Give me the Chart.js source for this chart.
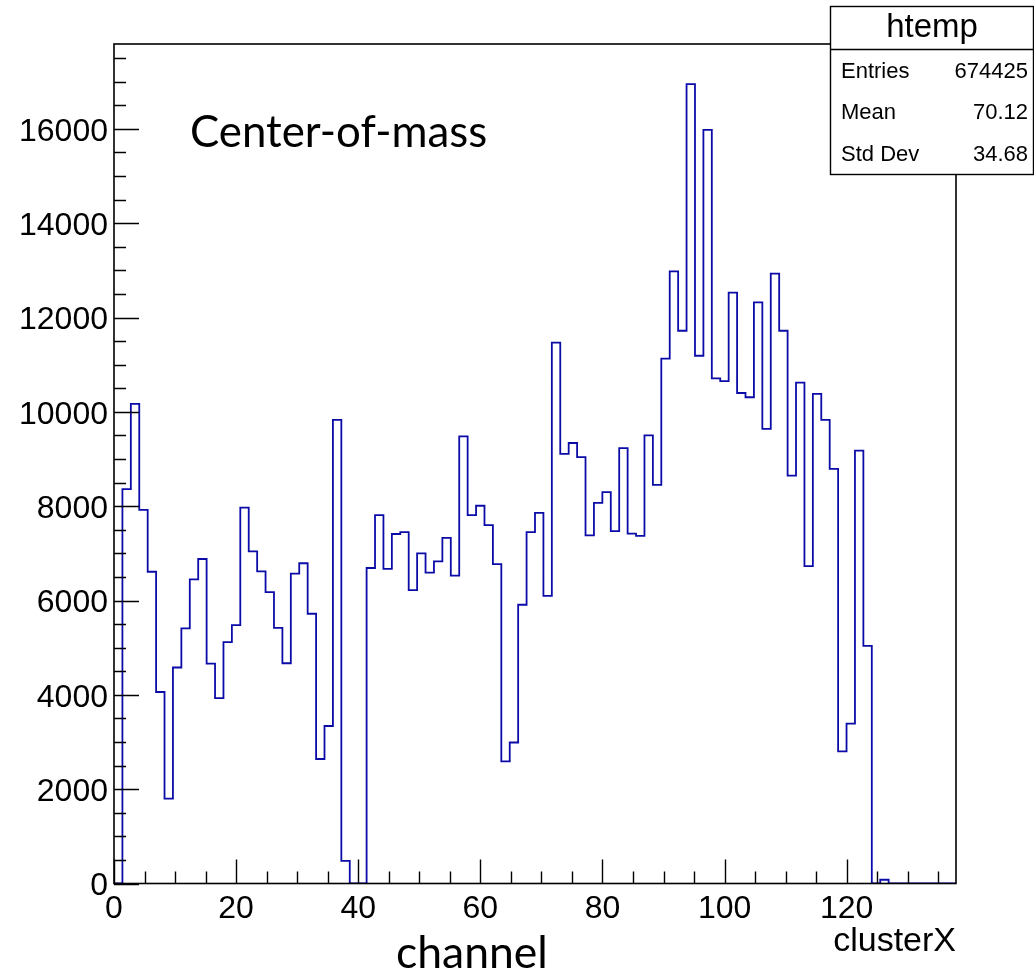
<!DOCTYPE html>
<html>
<head>
<meta charset="utf-8">
<title>clusterX</title>
<script src="https://cdn.jsdelivr.net/npm/chart.js@4.4.1/dist/chart.umd.min.js"></script>
<style>
  html, body { margin: 0; padding: 0; background: #ffffff; }
  #wrap { width: 1034px; height: 975px; position: relative; }
</style>
</head>
<body>
<div id="wrap"><canvas id="c" width="1034" height="975"></canvas></div>
<script>
// Histogram "htemp" of clusterX: 100 bins over [0, 137.9]
const xRange = [0, 137.9];
const yRange = [0, 17800];
const binCounts = [
  0, 8360, 10170, 7920, 6610, 4060, 1800, 4580, 5410, 6450,
  6880, 4660, 3930, 5120, 5480, 7970, 7040, 6620, 6180, 5420,
  4670, 6570, 6790, 5720, 2640, 3340, 9830, 480, 0, 0,
  6690, 7810, 6670, 7410, 7450, 6220, 7000, 6590, 6830, 7330,
  6530, 9480, 7810, 8010, 7600, 6770, 2590, 2990, 5910, 7450,
  7860, 6100, 11470, 9110, 9340, 9040, 7380, 8070, 8300, 7470,
  9230, 7420, 7370, 9500, 8450, 11130, 12980, 11720, 16950, 11190,
  15980, 10710, 10650, 12530, 10400, 10310, 12320, 9640, 12930, 11720,
  8650, 10620, 6730, 10380, 9830, 8790, 2800, 3390, 9180, 5040,
  0, 80, 0, 0, 0, 0, 0, 0, 0, 0
];
const xTickValues = [0, 20, 40, 60, 80, 100, 120];
const yTickValues = [0, 2000, 4000, 6000, 8000, 10000, 12000, 14000, 16000];
const xMinorStep = 5;
const yMinorStep = 500;
const histName = 'htemp';
const statsLabels = ['Entries', 'Mean', 'Std Dev'];
const statsValues = ['674425', '70.12', '34.68'];
const xTitle = 'clusterX';
const noteText = 'Center-of-mass';
const unitText = 'channel';

// step outline points: one per bin low edge, plus the upper edge of the last bin
const binWidth = (xRange[1] - xRange[0]) / binCounts.length;
const outline = binCounts.map((v, i) => ({ x: xRange[0] + i * binWidth, y: v }));
outline.push({ x: xRange[1], y: binCounts[binCounts.length - 1] });

const LABEL_FONT = 'Liberation Sans, Arial, Helvetica, sans-serif';
const NOTE_FONT = 'Lato, Open Sans, sans-serif';

function fitFontSize(ctx, text, family, width) {
  ctx.font = '100px ' + family;
  return 100 * width / ctx.measureText(text).width;
}

// ROOT-style frame, inward tick marks, stats box and free text
const rootDecor = {
  id: 'rootDecor',
  afterDatasetsDraw(chart) {
    const { ctx, chartArea: a, scales: { x, y } } = chart;
    ctx.save();
    ctx.strokeStyle = '#000';
    ctx.lineWidth = 1.6;
    ctx.strokeRect(a.left, a.top, a.right - a.left, a.bottom - a.top);
    ctx.lineWidth = 1.4;
    ctx.beginPath();
    for (let v = yRange[0]; v <= yRange[1]; v += yMinorStep) {
      const py = Math.round(y.getPixelForValue(v)) + 0.5;
      const len = yTickValues.includes(v) ? 25 : 12;
      ctx.moveTo(a.left, py);
      ctx.lineTo(a.left + len, py);
    }
    for (let v = xRange[0]; v <= xRange[1]; v += xMinorStep) {
      const px = Math.round(x.getPixelForValue(v)) + 0.5;
      const len = xTickValues.includes(v) ? 24 : 12;
      ctx.moveTo(px, a.bottom);
      ctx.lineTo(px, a.bottom - len);
    }
    ctx.stroke();
    ctx.restore();
  },
  afterDraw(chart) {
    const { ctx } = chart;
    ctx.save();
    // statistics box
    const bx = 830.5, by = 6.5, bw = 203, bh = 168, divY = 49.5;
    ctx.fillStyle = '#fff';
    ctx.fillRect(bx, by, bw, bh);
    ctx.strokeStyle = '#000';
    ctx.lineWidth = 1.4;
    ctx.strokeRect(bx, by, bw, bh);
    ctx.beginPath();
    ctx.moveTo(bx, divY);
    ctx.lineTo(bx + bw, divY);
    ctx.stroke();
    ctx.fillStyle = '#000';
    ctx.textBaseline = 'middle';
    ctx.textAlign = 'center';
    ctx.font = '33px ' + LABEL_FONT;
    ctx.fillText(histName, bx + bw / 2, 28);
    ctx.font = '22px ' + LABEL_FONT;
    const rows = [72, 113, 155];
    statsLabels.forEach((lab, i) => {
      ctx.textAlign = 'left';
      ctx.fillText(lab, 841, rows[i]);
      ctx.textAlign = 'right';
      ctx.fillText(statsValues[i], 1028, rows[i]);
    });
    // free text on the pad
    ctx.textBaseline = 'alphabetic';
    ctx.textAlign = 'left';
    const s1 = fitFontSize(ctx, noteText, NOTE_FONT, 297);
    ctx.font = s1.toFixed(1) + 'px ' + NOTE_FONT;
    ctx.fillText(noteText, 190, 147);
    const s2 = fitFontSize(ctx, unitText, NOTE_FONT, 152);
    ctx.font = s2.toFixed(1) + 'px ' + NOTE_FONT;
    ctx.fillText(unitText, 396, 968);
    ctx.restore();
  }
};

new Chart(document.getElementById('c'), {
  type: 'line',
  data: {
    datasets: [{
      label: histName,
      data: outline,
      stepped: 'before',
      borderColor: '#0b0ba8',
      borderWidth: 1.8,
      pointRadius: 0,
      fill: false
    }]
  },
  options: {
    responsive: false,
    animation: false,
    devicePixelRatio: 1,
    layout: { padding: { top: 44, right: 78, left: 0, bottom: 0 } },
    plugins: { legend: { display: false }, tooltip: { enabled: false } },
    scales: {
      x: {
        type: 'linear',
        min: xRange[0],
        max: xRange[1],
        grid: { display: false, drawTicks: false },
        border: { display: false },
        afterBuildTicks: s => { s.ticks = xTickValues.map(v => ({ value: v })); },
        ticks: {
          autoSkip: false,
          maxRotation: 0,
          color: '#000',
          padding: 6,
          font: { family: LABEL_FONT, size: 32 },
          callback: v => String(v)
        },
        title: {
          display: true,
          text: xTitle,
          align: 'end',
          color: '#000',
          font: { family: LABEL_FONT, size: 34 },
          padding: { top: 0, bottom: 13 }
        },
        afterFit: s => { s.height = 91.5; }
      },
      y: {
        type: 'linear',
        min: yRange[0],
        max: yRange[1],
        grid: { display: false, drawTicks: false },
        border: { display: false },
        afterBuildTicks: s => { s.ticks = yTickValues.map(v => ({ value: v })); },
        ticks: {
          autoSkip: false,
          color: '#000',
          padding: 6,
          labelOffset: 3,
          font: { family: LABEL_FONT, size: 32 },
          callback: v => String(v)
        },
        afterFit: s => { s.width = 114; }
      }
    }
  },
  plugins: [rootDecor]
});
</script>
</body>
</html>
